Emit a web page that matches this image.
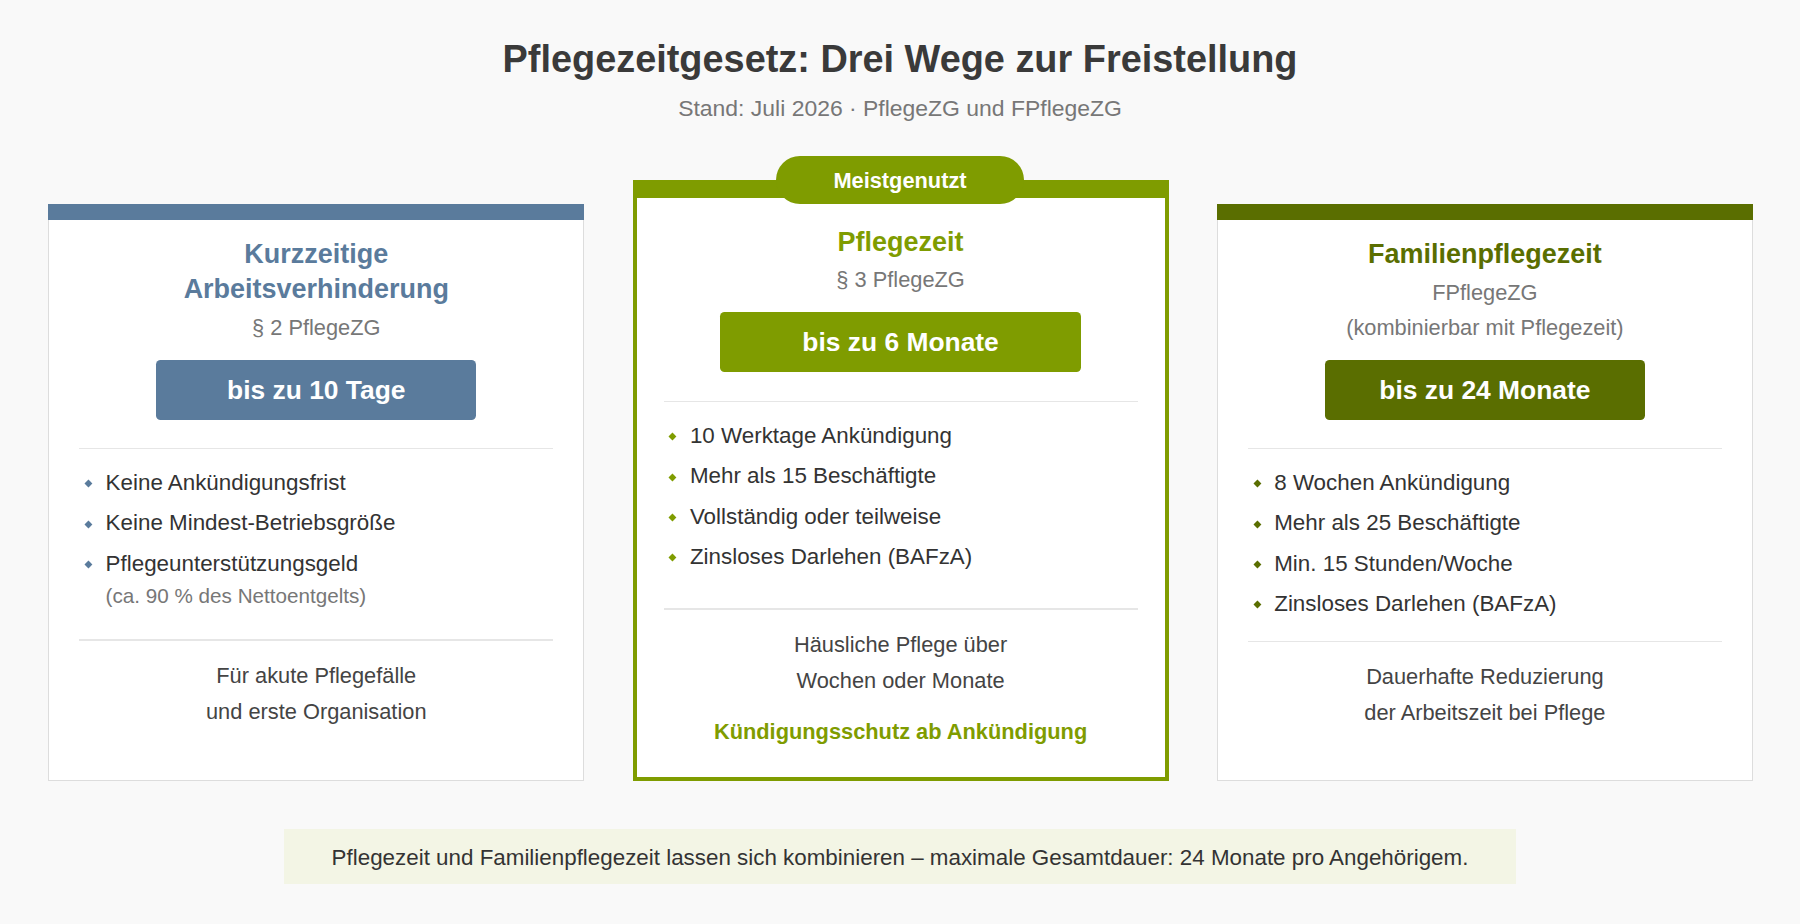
<!DOCTYPE html>
<html><head><meta charset="utf-8">
<script src="https://cdn.jsdelivr.net/npm/chart.js@4"></script>
<style>
body{margin:0;background:#f9f9f9;font-family:"Liberation Sans",Arial,sans-serif;}
#root{position:relative;width:1800px;height:924px;overflow:hidden}
.a{position:absolute;white-space:nowrap;transform:translateY(-50%)}
.c{text-align:center;transform:translate(-50%,-50%)}
</style></head><body><div id="root"></div>
<script>
const title="Pflegezeitgesetz: Drei Wege zur Freistellung";
const subtitle="Stand: Juli 2026 · PflegeZG und FPflegeZG";
const cardTitles=[["Kurzzeitige","Arbeitsverhinderung"],["Pflegezeit"],["Familienpflegezeit"]];
const cardLaws=[["§ 2 PflegeZG"],["§ 3 PflegeZG"],["FPflegeZG","(kombinierbar mit Pflegezeit)"]];
const durations=["bis zu 10 Tage","bis zu 6 Monate","bis zu 24 Monate"];
const bullets=[["Keine Ankündigungsfrist","Keine Mindest-Betriebsgröße","Pflegeunterstützungsgeld"],
["10 Werktage Ankündigung","Mehr als 15 Beschäftigte","Vollständig oder teilweise","Zinsloses Darlehen (BAFzA)"],
["8 Wochen Ankündigung","Mehr als 25 Beschäftigte","Min. 15 Stunden/Woche","Zinsloses Darlehen (BAFzA)"]];
const notes=[["Für akute Pflegefälle","und erste Organisation"],["Häusliche Pflege über","Wochen oder Monate"],["Dauerhafte Reduzierung","der Arbeitszeit bei Pflege"]];
const colors=["#5a7b9c","#7f9c00","#5a6e00"];
const footer="Pflegezeit und Familienpflegezeit lassen sich kombinieren – maximale Gesamtdauer: 24 Monate pro Angehörigem.";

const s=1800/1568, R=document.getElementById('root');
function box(x,y,w,h,st){const d=document.createElement('div');d.style.cssText=`position:absolute;left:${x*s}px;top:${y*s}px;width:${w*s}px;height:${h*s}px;box-sizing:border-box;`+(st||'');R.appendChild(d);return d;}
function txt(x,y,t,fs,st,center){const d=document.createElement('div');d.className='a'+(center?' c':'');d.textContent=t;d.style.cssText=`left:${x*s}px;top:${y*s}px;font-size:${fs*s}px;`+(st||'');R.appendChild(d);return d;}

txt(784,51,title,33,'font-weight:bold;color:#3a3a3a',1);
txt(784,94,subtitle,20,'color:#777',1);

const cards=[{x:42,top:178,mid:false},{x:551,top:157,mid:true},{x:1060,top:178,mid:false}];
cards.forEach((c,i)=>{
  const w=467,cx=c.x+w/2,col=colors[i];
  if(c.mid){box(c.x,c.top,w,680-c.top,`background:#fff;border:4px solid ${col};border-top-width:18px`);
    box(676,136,216,42,`background:${col};border-radius:${21*s}px`);
    txt(784,158,"Meistgenutzt",19,'color:#fff;font-weight:bold',1);}
  else{box(c.x,c.top,w,680-c.top,'background:#fff;border:1px solid #ddd');box(c.x,c.top,w,14,`background:${col}`);}
  let y=c.mid?211:221;
  cardTitles[i].forEach(t=>{txt(cx,y,t,23.5,`font-weight:bold;color:${col}`,1);y+=31;});
  y=c.mid?244:(i==0?286:255);
  cardLaws[i].forEach(t=>{txt(cx,y,t,19,'color:#777',1);y+=31;});
  const by=c.mid?272:314;
  const bw=c.mid?314:279;
  box(cx-bw/2,by,bw,52,`background:${col};border-radius:${4*s}px`);
  txt(cx,by+26,durations[i],23,'color:#fff;font-weight:bold',1);
  const d1=c.mid?349:390;
  box(c.x+27,d1,413,1,'background:#e6e6e6');
  let yy=d1+31;
  bullets[i].forEach(t=>{box(c.x+32,yy-2.5,6,6,`background:${col};transform:rotate(45deg) scale(0.8)`);txt(c.x+50,yy,t,19.5,'color:#333');yy+=35;});
  if(i==0){txt(c.x+50,519,"(ca. 90 % des Nettoentgelts)",18,'color:#777');}
  const d2=c.mid?530:(i==0?557:558);
  box(c.x+27,d2,413,1,'background:#e6e6e6');
  let ny=d2+32;
  notes[i].forEach(t=>{txt(cx,ny,t,19,'color:#444',1);ny+=31;});
  if(c.mid)txt(cx,638,"Kündigungsschutz ab Ankündigung",19,`font-weight:bold;color:${col}`,1);
});
box(247,722,1074,48,'background:#f3f5e5');
txt(784,747,footer,19.5,'color:#333',1);
</script></body></html>
